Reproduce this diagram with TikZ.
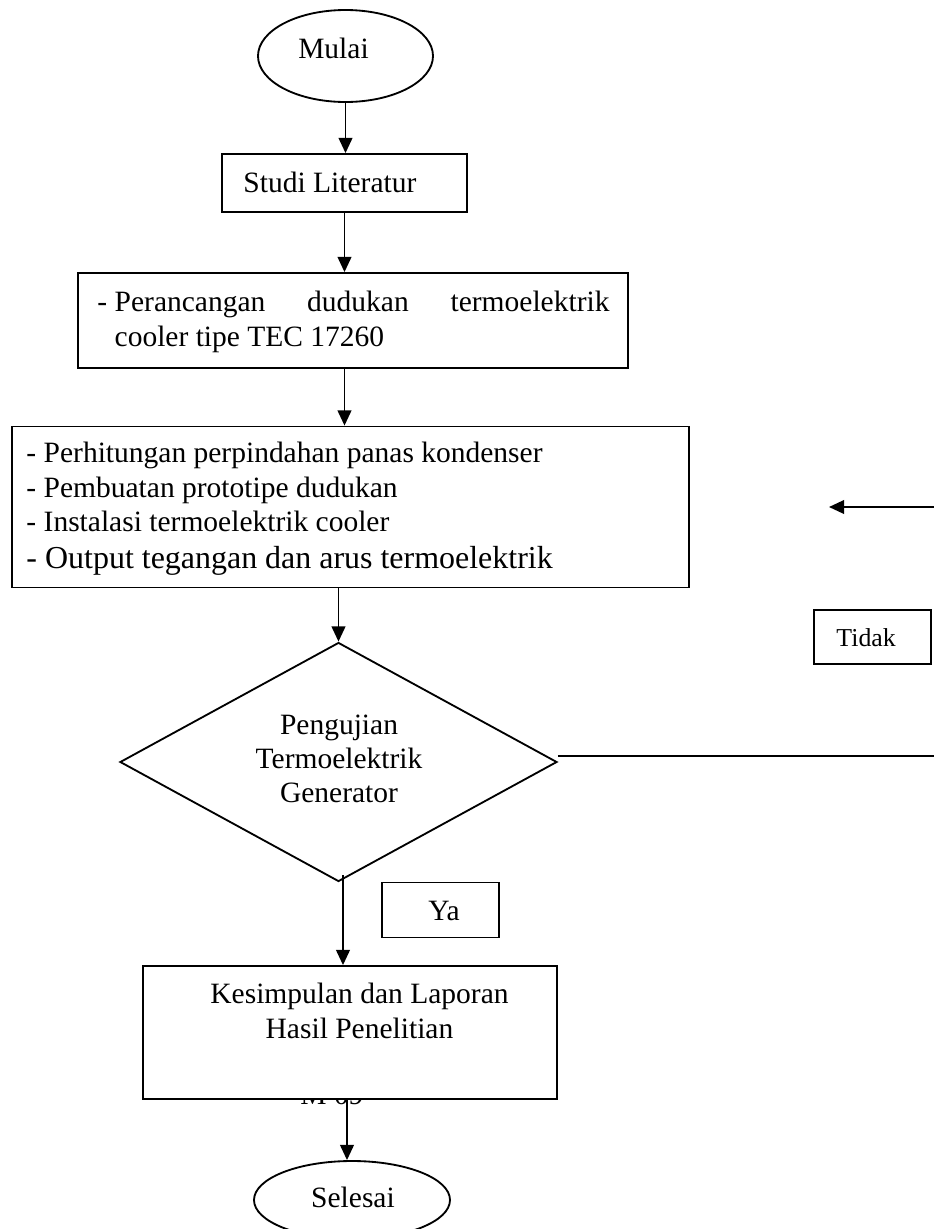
\documentclass[tikz,border=0pt]{standalone}
\usepackage{fontspec}
\setmainfont{Liberation Serif}
\usetikzlibrary{shapes.geometric,arrows.meta}
\newlength{\px}\setlength{\px}{0.4068pt}
\begin{document}
\begin{tikzpicture}[x=0.4068pt,y=-0.4068pt,
  box/.style={draw, rectangle, inner sep=0pt, line width=0.75pt, fill=white},
  oval/.style={draw, ellipse, inner sep=0pt, line width=0.75pt, fill=white},
  txt/.style={inner sep=0pt, font=\fontsize{12}{14}\selectfont},
  arr/.style={line width=0.75pt, -{Triangle[length=6.2pt,width=5.6pt]}},
  ln/.style={line width=0.75pt}]
\fill[white] (0,0) rectangle (934,1229);
\useasboundingbox (0,0) rectangle (934,1229);
\clip (0,0) rectangle (934,1229);

% start
\node[oval, minimum width=175\px, minimum height=92\px] (mulai) at (345.5,56) {};
\node[txt, anchor=base] (mulaiT) at (333.5,58) {Mulai};

% Studi Literatur
\node[box, minimum width=245\px, minimum height=58\px] (studi) at (344.5,183) {};
\node[txt, anchor=base west] (studiT) at (243,192) {Studi Literatur};

% Perancangan
\node[box, minimum width=550\px, minimum height=95\px] (peran) at (353,320.5) {};
\node[txt, anchor=north west, align=left] (peranT) at (97,291)
  {\hbox to 512\px{- Perancangan\hfill dudukan\hfill termoelektrik}\\\hphantom{- }cooler tipe TEC 17260};

% big box
\node[box, minimum width=677\px, minimum height=161\px] (big) at (350.5,507) {};
\node[txt, anchor=north west, align=left] (bigT) at (26,442)
  {- Perhitungan perpindahan panas kondenser\\- Pembuatan prototipe dudukan\\- Instalasi termoelektrik cooler\\[0.9pt]{\fontsize{13}{15}\selectfont - Output tegangan dan arus termoelektrik}};

% decision
\node[draw, diamond, inner sep=0pt, line width=0.75pt, aspect=1.83,
      minimum width=437\px, minimum height=239\px] (dia) at (338.5,762) {};
\node[txt, anchor=north, align=center] (diaT) at (339,714) {Pengujian\\Termoelektrik\\Generator};

% Tidak
\node[box, minimum width=117\px, minimum height=54\px] (tidak) at (872.5,637) {};
\node[txt, font=\fontsize{10.5}{12}\selectfont, anchor=base west] (tidakT) at (836,646) {Tidak};

% Ya
\node[box, minimum width=117\px, minimum height=55\px] (ya) at (440.5,910) {};
\node[txt, anchor=base] (yaT) at (444,920) {Ya};

% stray text partly hidden behind the box
\node[txt, anchor=base west] (m09) at (300,1104) {M 09};

% Kesimpulan
\node[box, minimum width=414\px, minimum height=133\px] (kes) at (350,1032.5) {};
\node[txt, anchor=north, align=center] (kesT) at (359.5,983) {Kesimpulan dan Laporan\\Hasil Penelitian};

% end
\node[oval, minimum width=196\px, minimum height=78\px] (sel) at (352,1200) {};
\node[txt, anchor=base] (selT) at (353,1207) {Selesai};

% connectors
\draw[arr] (mulai.south) -- (mulai.south |- studi.north);
\draw[arr] (studi.south) -- (studi.south |- peran.north);
\draw[arr] (studi.south |- peran.south) -- (studi.south |- big.north);
\draw[arr] (dia.north |- big.south) -- (dia.north);
\coordinate (dbot) at ([shift={(4.5,-7)}]dia.south);
\draw[arr] (dbot) -- (dbot |- kes.north);
\coordinate (sx) at ([xshift=-5\px]sel.north);
\draw[arr] (sx |- kes.south) -- (sx);
\coordinate (rEdge) at (934,756);
\draw[ln] (dia.east |- rEdge) -- (rEdge);
\coordinate (tEdge) at (934,507);
\coordinate (tTip) at (829,507);
\draw[arr] (tEdge) -- (tTip);
\end{tikzpicture}
\end{document}
